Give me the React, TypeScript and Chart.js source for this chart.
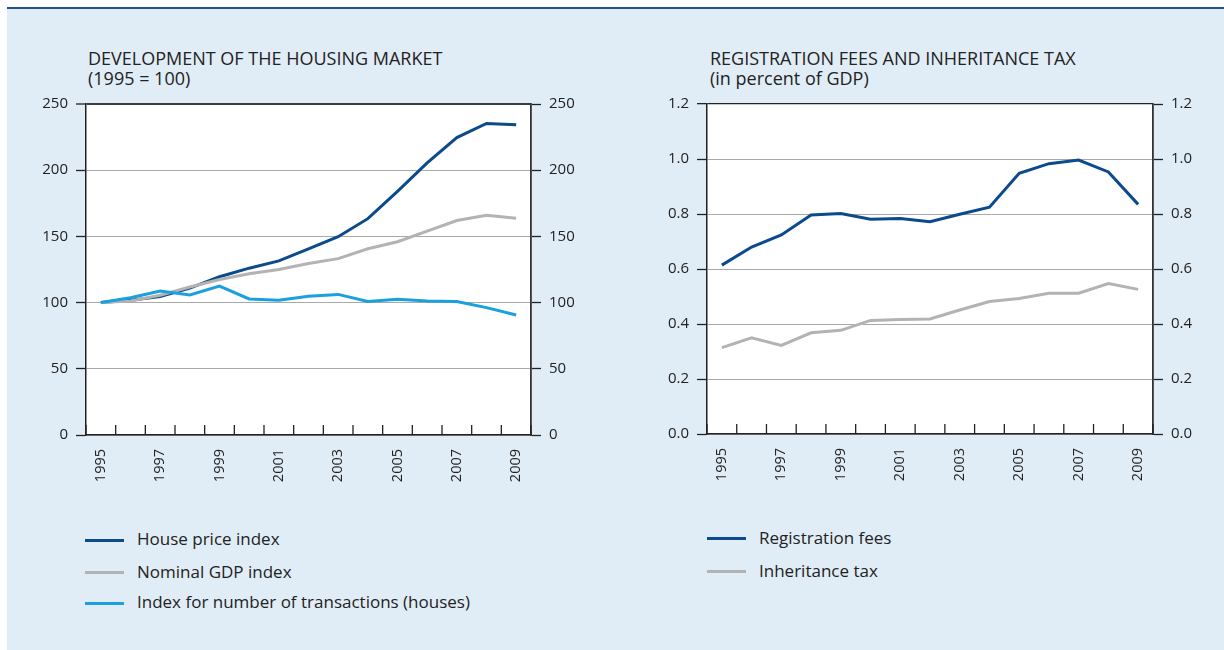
import React, { useEffect, useRef } from "react";
import { Chart, registerables } from "chart.js";

Chart.register(...registerables);

// ---------- data ----------
const years = ["1995", "1996", "1997", "1998", "1999", "2000", "2001", "2002", "2003", "2004", "2005", "2006", "2007", "2008", "2009"];

const housePriceIndex = [100, 101.8, 104.5, 111, 119.5, 126, 131.5, 140.5, 149.8, 163.4, 184, 205.5, 224.6, 235.3, 234.4];
const nominalGdpIndex = [100, 101.2, 105.5, 111.8, 117.5, 121.8, 125, 129.6, 133.2, 140.7, 146, 154, 162, 166, 163.7];
const transactionsIndex = [100, 103.7, 108.8, 105.8, 112.5, 102.8, 101.7, 104.8, 106.2, 100.8, 102.6, 101.3, 100.9, 96.2, 90.6];

const registrationFees = [0.614, 0.68, 0.724, 0.796, 0.802, 0.781, 0.784, 0.772, 0.799, 0.825, 0.948, 0.983, 0.996, 0.953, 0.835];
const inheritanceTax = [0.314, 0.35, 0.322, 0.368, 0.377, 0.413, 0.416, 0.418, 0.451, 0.482, 0.493, 0.512, 0.512, 0.547, 0.526];

const leftAxisMin = 0;
const leftAxisMax = 250;
const leftAxisStep = 50;
const rightAxisMin = 0;
const rightAxisMax = 1.2;
const rightAxisStep = 0.2;

const leftTitle = ["DEVELOPMENT OF THE HOUSING MARKET", "(1995 = 100)"];
const rightTitle = ["REGISTRATION FEES AND INHERITANCE TAX", "(in percent of GDP)"];

const leftLabels = ["House price index", "Nominal GDP index", "Index for number of transactions (houses)"];
const rightLabels = ["Registration fees", "Inheritance tax"];

// ---------- styles ----------
const DARK_BLUE = "#0b4a8c";
const GRAY = "#b3b3b3";
const LIGHT_BLUE = "#1aa0de";
const BG = "#e1edf6";
const TEXT = "#222222";
const FONT = "'Open Sans', 'Noto Sans', sans-serif";

const plotBgPlugin = {
  id: "plotBg",
  beforeDraw(chart: any) {
    const { ctx, chartArea } = chart;
    ctx.save();
    ctx.fillStyle = "#ffffff";
    ctx.fillRect(chartArea.left, chartArea.top, chartArea.right - chartArea.left, chartArea.bottom - chartArea.top);
    ctx.restore();
  },
};

const innerTicksPlugin = {
  id: "innerTicks",
  afterDraw(chart: any) {
    const xs = chart.scales.x;
    const n = xs.getLabels().length;
    const { ctx } = chart;
    ctx.save();
    ctx.strokeStyle = "#222";
    ctx.lineWidth = 1.3;
    for (let i = 0; i <= n; i++) {
      const px = xs.left + (i * (xs.right - xs.left)) / n;
      ctx.beginPath();
      ctx.moveTo(px, xs.top);
      ctx.lineTo(px, xs.top - 10);
      ctx.stroke();
    }
    ctx.restore();
  },
};

function makeOptions(min: number, max: number, step: number, leftW: number, rightW: number, bottomH: number, topPad: number, fmt: (v: number) => string, topDark: string, topWidth: number) {
  const yGrid = {
    color: (c: any) => (Math.abs(c.tick.value - max) < 1e-9 ? topDark : "#a9a9a9"),
    lineWidth: (c: any) => (Math.abs(c.tick.value - max) < 1e-9 ? topWidth : 1),
    tickColor: "#222",
    tickWidth: 1.3,
    tickLength: 10,
    drawTicks: true,
  };
  return {
    responsive: false,
    animation: false as const,
    devicePixelRatio: 1,
    layout: { padding: { top: topPad, left: 0, right: 0, bottom: 0 } },
    plugins: { legend: { display: false }, tooltip: { enabled: false }, title: { display: false } },
    elements: { point: { radius: 0 }, line: { tension: 0, borderWidth: 3 } },
    scales: {
      x: {
        type: "category" as const,
        offset: true,
        grid: { display: false, drawTicks: false },
        border: { display: true, color: "#222", width: 1.5 },
        ticks: {
          autoSkip: false,
          maxRotation: 90,
          minRotation: 90,
          padding: 14,
          color: TEXT,
          font: { family: FONT, size: 14.5 },
          callback: (_v: any, i: number) => (i % 2 === 0 ? years[i] : ""),
        },
        afterFit: (s: any) => {
          s.height = bottomH;
        },
      },
      y: {
        position: "left" as const,
        min,
        max,
        ticks: { stepSize: step, padding: 8, color: TEXT, font: { family: FONT, size: 15 }, callback: (v: any) => fmt(Number(v)) },
        grid: yGrid,
        border: { display: true, color: "#222", width: 1.5 },
        afterFit: (s: any) => {
          s.width = leftW;
        },
      },
      y2: {
        position: "right" as const,
        min,
        max,
        ticks: { stepSize: step, padding: 8, color: TEXT, font: { family: FONT, size: 15 }, callback: (v: any) => fmt(Number(v)) },
        grid: { drawOnChartArea: false, tickColor: "#222", tickWidth: 1.3, tickLength: 10 },
        border: { display: true, color: "#333", width: 1.8 },
        afterFit: (s: any) => {
          s.width = rightW;
        },
      },
    },
  };
}

function LineChart(props: { datasets: any[]; options: any; left: number; top: number; width: number; height: number }) {
  const ref = useRef<HTMLCanvasElement | null>(null);
  useEffect(() => {
    if (!ref.current) return;
    const chart = new Chart(ref.current, {
      type: "line",
      data: { labels: years, datasets: props.datasets },
      options: props.options,
      plugins: [plotBgPlugin, innerTicksPlugin],
    });
    return () => chart.destroy();
  }, []);
  return (
    <canvas
      ref={ref}
      width={props.width}
      height={props.height}
      style={{ position: "absolute", left: props.left, top: props.top, width: props.width, height: props.height }}
    />
  );
}

function Title(props: { lines: string[]; left: number }) {
  return (
    <div style={{ position: "absolute", left: props.left, top: 48, fontFamily: FONT, fontSize: 18, lineHeight: "20px", color: TEXT, whiteSpace: "nowrap" }}>
      {props.lines.map((l, i) => (
        <div key={i}>{l}</div>
      ))}
    </div>
  );
}

function LegendRow(props: { label: string; color: string; lineLeft: number; textLeft: number; center: number }) {
  return (
    <>
      <div style={{ position: "absolute", left: props.lineLeft, top: props.center - 1.5, width: 39, height: 3, background: props.color }} />
      <div style={{ position: "absolute", left: props.textLeft, top: props.center - 11, fontFamily: FONT, fontSize: 17, lineHeight: "20px", color: TEXT, whiteSpace: "nowrap" }}>
        {props.label}
      </div>
    </>
  );
}

export default function App() {
  const leftOptions = makeOptions(leftAxisMin, leftAxisMax, leftAxisStep, 66, 69, 65, 10, (v) => String(Math.round(v)), "#3c3c3c", 2);
  const rightOptions = makeOptions(rightAxisMin, rightAxisMax, rightAxisStep, 67, 67, 66, 10, (v) => v.toFixed(1), "#222", 1.3);

  const leftDatasets = [
    { label: leftLabels[2], data: transactionsIndex, borderColor: LIGHT_BLUE, borderWidth: 3, yAxisID: "y" },
    { label: leftLabels[1], data: nominalGdpIndex, borderColor: GRAY, borderWidth: 3, yAxisID: "y" },
    { label: leftLabels[0], data: housePriceIndex, borderColor: DARK_BLUE, borderWidth: 3, yAxisID: "y" },
  ];
  const rightDatasets = [
    { label: rightLabels[1], data: inheritanceTax, borderColor: GRAY, borderWidth: 3, yAxisID: "y" },
    { label: rightLabels[0], data: registrationFees, borderColor: DARK_BLUE, borderWidth: 3, yAxisID: "y" },
  ];

  return (
    <div style={{ position: "absolute", left: 0, top: 0, width: 1224, height: 650, overflow: "hidden" }}>
      <div style={{ position: "absolute", left: 7, top: 7, width: 1217, height: 643, background: BG, borderTop: "2px solid #1d548f", boxSizing: "border-box" }} />
      <Title lines={leftTitle} left={88} />
      <Title lines={rightTitle} left={710} />
      <LineChart datasets={leftDatasets} options={leftOptions} left={20} top={87} width={580} height={413} />
      <LineChart datasets={rightDatasets} options={rightOptions} left={640} top={87} width={580} height={413} />
      <LegendRow label={leftLabels[0]} color={DARK_BLUE} lineLeft={85} textLeft={137} center={540.3} />
      <LegendRow label={leftLabels[1]} color={GRAY} lineLeft={85} textLeft={137} center={572.8} />
      <LegendRow label={leftLabels[2]} color={LIGHT_BLUE} lineLeft={85} textLeft={137} center={603.3} />
      <LegendRow label={rightLabels[0]} color={DARK_BLUE} lineLeft={707} textLeft={759} center={538.9} />
      <LegendRow label={rightLabels[1]} color={GRAY} lineLeft={707} textLeft={759} center={571.5} />
    </div>
  );
}
